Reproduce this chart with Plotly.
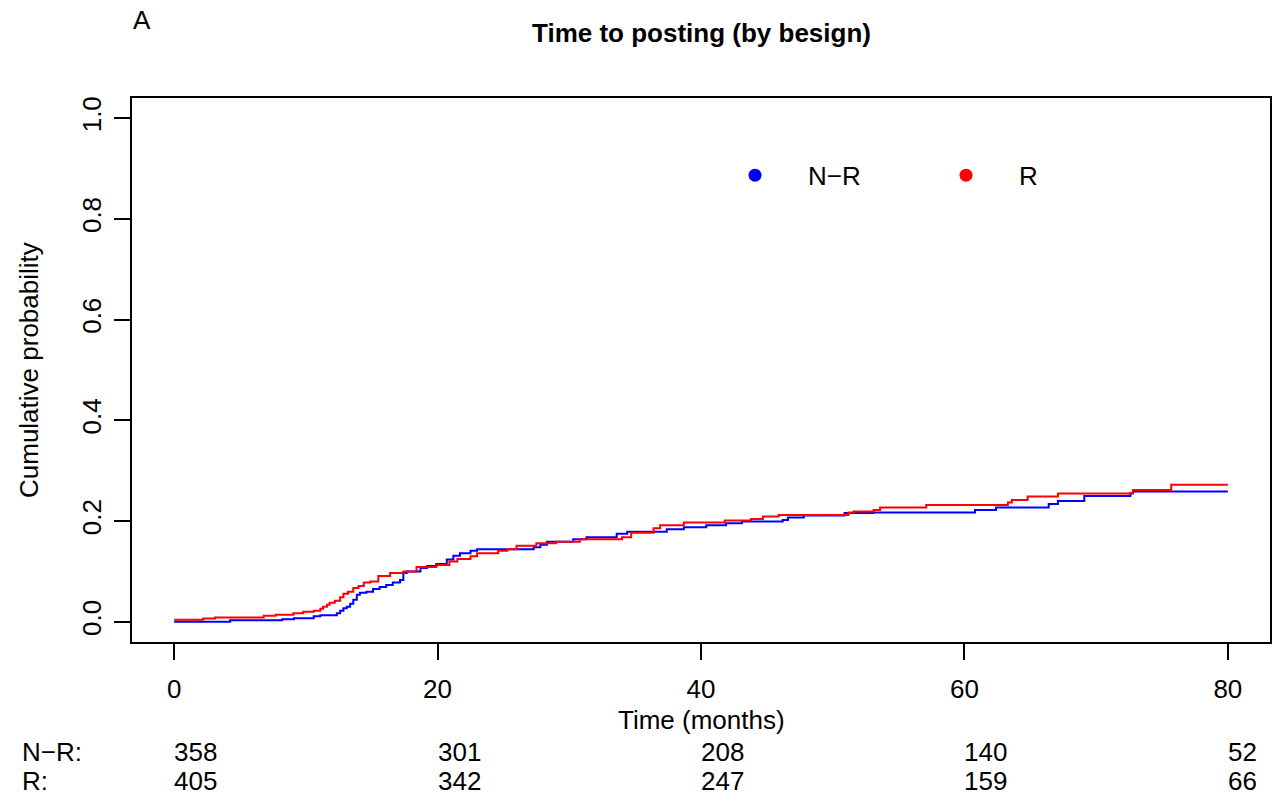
import plotly.graph_objects as go

# ---- data ----
nr_time = [0, 4.25, 8.2, 9.1, 10.6, 11.1, 12.35, 12.6, 12.85, 13.1, 13.36, 13.6, 13.87, 14.1,
           14.6, 15.1, 15.6, 16.1, 16.6, 17.15, 17.4, 17.66, 18.7, 19.2, 19.9, 20.7, 21.2, 21.7,
           22.5, 23.0, 27.3, 27.8, 28.3, 30.3, 31.3, 33.6, 34.4, 37.4, 38.7, 40.4, 41.9, 43.1,
           46.2, 46.6, 47.8, 50.9, 53.1, 60.8, 62.4, 66.4, 67.1, 69.1, 72.6, 72.8, 80]
nr_prob = [0, 0.003, 0.005, 0.007, 0.011, 0.013, 0.017, 0.022, 0.027, 0.030, 0.036, 0.044, 0.054, 0.058,
           0.060, 0.065, 0.069, 0.073, 0.078, 0.083, 0.097, 0.100, 0.107, 0.111, 0.115, 0.124, 0.131, 0.136,
           0.141, 0.144, 0.148, 0.153, 0.159, 0.164, 0.168, 0.175, 0.179, 0.184, 0.188, 0.192, 0.196, 0.199,
           0.202, 0.207, 0.211, 0.216, 0.217, 0.222, 0.227, 0.234, 0.240, 0.250, 0.255, 0.259, 0.259]

r_time = [0, 2.2, 3.1, 6.8, 7.7, 9.05, 9.8, 10.6, 11.1, 11.3, 11.6, 11.8, 12.2, 12.6, 12.85, 13.2,
          13.6, 14.0, 14.4, 14.9, 15.5, 16.4, 17.4, 18.4, 19.9, 20.9, 21.5, 22.5, 23.0, 24.6, 25.3,
          26.0, 27.5, 29.0, 30.8, 34.0, 34.7, 36.4, 36.9, 38.7, 41.8, 43.8, 44.7, 45.9, 51.2, 51.6,
          53.1, 53.6, 57.1, 63.3, 63.6, 64.8, 67.1, 72.6, 72.8, 75.7, 80]
r_prob = [0.004, 0.0066, 0.0085, 0.012, 0.014, 0.017, 0.020, 0.022, 0.026, 0.030, 0.034, 0.038, 0.042,
          0.049, 0.056, 0.060, 0.067, 0.071, 0.078, 0.080, 0.091, 0.097, 0.100, 0.109, 0.113, 0.120,
          0.125, 0.130, 0.136, 0.141, 0.144, 0.151, 0.156, 0.159, 0.164, 0.168, 0.177, 0.186, 0.192,
          0.197, 0.201, 0.204, 0.209, 0.212, 0.217, 0.219, 0.222, 0.227, 0.232, 0.237, 0.242, 0.249,
          0.255, 0.256, 0.262, 0.272, 0.272]

risk_times = [0, 20, 40, 60, 80]
risk_nr = [358, 301, 208, 140, 52]
risk_r = [405, 342, 247, 159, 66]
group_labels = ["N\u2212R", "R"]
group_colors = ["#0000FF", "#FF0000"]

x_ticks = [0, 20, 40, 60, 80]
y_ticks = [0, 0.2, 0.4, 0.6, 0.8, 1.0]
y_ticktext = ["0.0", "0.2", "0.4", "0.6", "0.8", "1.0"]

FONT = "Liberation Sans, Arial, Helvetica, sans-serif"
FS = 26

fig = go.Figure()
for t, p, lab, col in [(nr_time, nr_prob, group_labels[0], group_colors[0]),
                       (r_time, r_prob, group_labels[1], group_colors[1])]:
    fig.add_trace(go.Scatter(x=t, y=p, mode="lines", line=dict(color=col, width=2, shape="hv"),
                             showlegend=False, hoverinfo="skip"))
for lab, col in zip(group_labels, group_colors):
    fig.add_trace(go.Scatter(x=[None], y=[None], mode="markers", name=lab,
                             marker=dict(color=col, size=13), showlegend=True))

txt = dict(size=FS, family=FONT, color="black")
annotations = [
    dict(text="<b>Time to posting (by besign)</b>", xref="paper", yref="paper", x=0.5, y=1.1195,
         xanchor="center", yanchor="middle", showarrow=False, font=txt),
    dict(text="A", xref="paper", yref="paper", x=-0.001, y=1.143,
         xanchor="left", yanchor="middle", showarrow=False, font=txt),
    dict(text="Time (months)", xref="paper", yref="paper", x=0.5, y=-0.1435,
         xanchor="center", yanchor="middle", showarrow=False, font=txt, borderpad=0),
    dict(text="Cumulative probability", xref="paper", yref="paper", x=-0.0905, y=0.5, textangle=-90,
         xanchor="center", yanchor="middle", showarrow=False, font=txt),
    dict(text=group_labels[0] + ":", xref="paper", yref="paper", x=-0.0985, y=-0.202,
         xanchor="left", yanchor="middle", showarrow=False, font=txt),
    dict(text=group_labels[1] + ":", xref="paper", yref="paper", x=-0.0985, y=-0.2555,
         xanchor="left", yanchor="middle", showarrow=False, font=txt),
]
for t, a, b in zip(risk_times, risk_nr, risk_r):
    annotations.append(dict(text=str(a), xref="x", yref="paper", x=t, y=-0.202, xshift=-2,
                            xanchor="left", yanchor="middle", showarrow=False, font=txt))
    annotations.append(dict(text=str(b), xref="x", yref="paper", x=t, y=-0.2555, xshift=-2,
                            xanchor="left", yanchor="middle", showarrow=False, font=txt))

fig.update_layout(
    width=1278, height=803,
    margin=dict(l=132, r=8, t=98, b=161, autoexpand=False),
    paper_bgcolor="white", plot_bgcolor="white",
    font=dict(family=FONT, size=FS, color="black"),
    annotations=annotations,
    legend=dict(orientation="h", x=0.5009, y=0.858, xanchor="left", yanchor="middle",
                itemwidth=96, entrywidth=100, entrywidthmode="pixels",
                bgcolor="rgba(0,0,0,0)", font=txt),
    xaxis=dict(range=[-3.2, 83.2], tickvals=x_ticks, ticks="outside", ticklen=16, tickwidth=1.5,
               tickcolor="black", showline=True, mirror=True, linecolor="black", linewidth=1.5,
               showgrid=False, zeroline=False, tickfont=txt, ticklabelstandoff=7),
    yaxis=dict(range=[-0.04, 1.04], tickvals=y_ticks, ticktext=y_ticktext, tickangle=-90,
               ticks="outside", ticklen=16, tickwidth=1.5, tickcolor="black", showline=True, mirror=True,
               linecolor="black", linewidth=1.5, showgrid=False, zeroline=False, tickfont=txt,
               ticklabelstandoff=3),
)

fig.write_html("out.html")
